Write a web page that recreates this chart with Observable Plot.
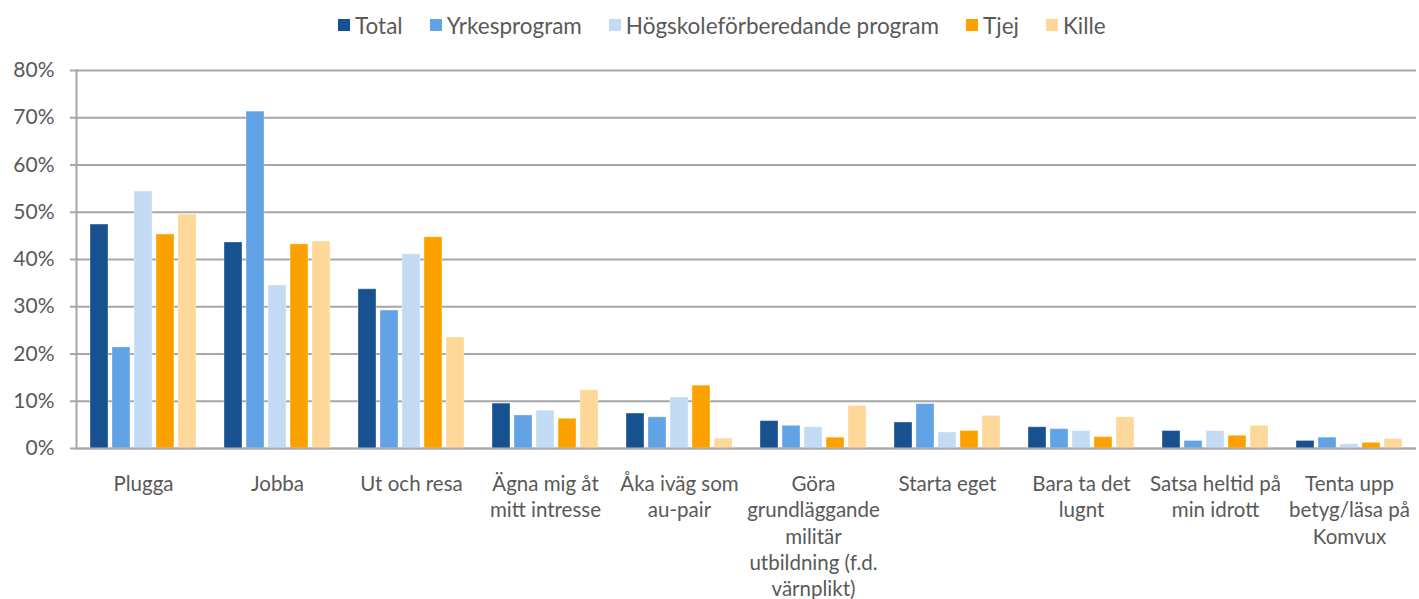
<!DOCTYPE html>
<html>
<head>
<meta charset="utf-8">
<script src="https://cdn.jsdelivr.net/npm/d3@7"></script>
<script src="https://cdn.jsdelivr.net/npm/@observablehq/plot@0.6"></script>
<style>
  html, body { margin: 0; padding: 0; background: #fff; width: 1419px; height: 599px; overflow: hidden; }
  body { font-family: Lato, "Open Sans", sans-serif; color: #595959; position: relative; }
  #legend { position: absolute; left: 338px; top: 10px; height: 30px; display: flex; align-items: center; font-size: 22.5px; color: #595959; white-space: nowrap; }
  #legend .item { display: flex; align-items: center; margin-right: 27px; }
  #legend .sw { width: 12px; height: 12px; margin-right: 5px; }
  #chart { position: absolute; left: 0; top: 50px; }
</style>
</head>
<body>
<div id="legend"></div>
<div id="chart"></div>
<script>
const categories = ["Plugga", "Jobba", "Ut och resa", "Ägna mig åt mitt intresse", "Åka iväg som au-pair", "Göra grundläggande militär utbildning (f.d. värnplikt)", "Starta eget", "Bara ta det lugnt", "Satsa heltid på min idrott", "Tenta upp betyg/läsa på Komvux"];
const tickLabels = ["Plugga", "Jobba", "Ut och resa", "Ägna mig åt\nmitt intresse", "Åka iväg som\nau-pair", "Göra\ngrundläggande\nmilitär\nutbildning (f.d.\nvärnplikt)", "Starta eget", "Bara ta det\nlugnt", "Satsa heltid på\nmin idrott", "Tenta upp\nbetyg/läsa på\nKomvux"];
const series = ["Total", "Yrkesprogram", "Högskoleförberedande program", "Tjej", "Kille"];
const colors = ["#17518f", "#62a3e5", "#c3dbf5", "#fba200", "#fed898"];
const total        = [47.4, 43.6, 33.7,  9.5,  7.4, 5.8, 5.5, 4.5, 3.7, 1.6];
const yrkesprogram = [21.4, 71.3, 29.2,  7.0,  6.6, 4.8, 9.4, 4.1, 1.6, 2.3];
const hogskole     = [54.4, 34.5, 41.1,  8.0, 10.8, 4.5, 3.4, 3.7, 3.7, 0.9];
const tjej         = [45.3, 43.2, 44.7,  6.3, 13.3, 2.3, 3.7, 2.4, 2.7, 1.2];
const kille        = [49.5, 43.8, 23.5, 12.3,  2.1, 9.0, 6.9, 6.6, 4.8, 2.0];
const yTicks = [0, 10, 20, 30, 40, 50, 60, 70, 80];

const valuesBySeries = [total, yrkesprogram, hogskole, tjej, kille];
const data = [];
categories.forEach((c, i) => series.forEach((s, j) => data.push({category: c, series: s, value: valuesBySeries[j][i]})));

// legend
const leg = document.getElementById("legend");
series.forEach((s, j) => {
  const it = document.createElement("div"); it.className = "item";
  const sw = document.createElement("div"); sw.className = "sw"; sw.style.background = colors[j];
  const tx = document.createElement("span"); tx.textContent = s;
  it.appendChild(sw); it.appendChild(tx); leg.appendChild(it);
});

const labelOf = new Map(categories.map((c, i) => [c, tickLabels[i]]));
const gridColor = "#a6a6a6";

const chart = Plot.plot({
  width: 1419,
  height: 549,
  marginTop: 20,
  marginBottom: 151,
  marginLeft: 72,
  marginRight: 0,
  style: {fontFamily: "Lato, 'Open Sans', sans-serif", color: "#595959", background: "white"},
  fx: {domain: categories, padding: 0, label: null},
  x: {domain: series, paddingInner: 0.2, paddingOuter: 0.6, axis: null},
  y: {domain: [0, 80], label: null},
  color: {domain: series, range: colors},
  marks: [
    Plot.gridY(yTicks, {stroke: gridColor, strokeOpacity: 1, strokeWidth: 2}),
    Plot.barY(data, {fx: "category", x: "series", y: "value", fill: "series", stroke: "white", strokeOpacity: 0.35, strokeWidth: 1}),
    Plot.ruleY([0], {stroke: gridColor, strokeWidth: 2, strokeOpacity: 0.8}),
    Plot.frame({anchor: "left", facetAnchor: "left", stroke: gridColor, strokeWidth: 2}),
    Plot.axisY(yTicks, {tickFormat: d => d + "%", tickSize: 6, tickPadding: 16, fontSize: 21, stroke: gridColor, strokeWidth: 2, fill: "#595959"}),
    Plot.axisFx({anchor: "bottom", tickSize: 0, tickPadding: 24, fontSize: 20.5, lineHeight: 1.28, tickFormat: d => labelOf.get(d), fill: "#595959", label: null})
  ]
});
document.getElementById("chart").appendChild(chart);
</script>
</body>
</html>
